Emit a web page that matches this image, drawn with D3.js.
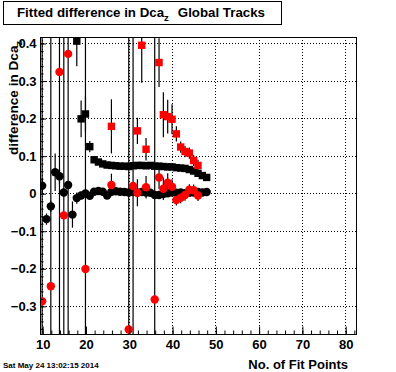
<!DOCTYPE html>
<html>
<head>
<meta charset="utf-8">
<script src="https://cdn.jsdelivr.net/npm/d3@7"></script>
<style>
  body { margin: 0; background: #fff; }
  text { font-family: "Liberation Sans", Arial, Helvetica, sans-serif; font-weight: bold; }
</style>
</head>
<body>
<div id="chart"></div>
<script>
// fitted difference in dca_z, global tracks, vs number of fit points
var xTicks = [10, 20, 30, 40, 50, 60, 70, 80];
var yTicks = [-0.3, -0.2, -0.1, 0, 0.1, 0.2, 0.3, 0.4];

var blackSqX = [18, 19, 20, 21, 22, 23, 24, 25, 26, 27, 28, 29, 30, 31, 32, 33,
  34, 35, 36, 37, 38, 39, 40, 41, 42, 43, 44, 45, 46, 47, 48];
var blackSqY = [0.405, 0.198, 0.211, 0.124, 0.089, 0.083, 0.078, 0.075, 0.074, 0.073,
  0.072, 0.072, 0.071, 0.073, 0.074, 0.074, 0.073, 0.074, 0.072, 0.072, 0.071, 0.070,
  0.070, 0.068, 0.067, 0.066, 0.063, 0.059, 0.053, 0.047, 0.042];
var blackSqErr = [0.067, 0.049, 0.047, 0.015, 0.006, 0.005, 0.005, 0.005, 0.005, 0.005,
  0.005, 0.005, 0.005, 0.005, 0.005, 0.005, 0.005, 0.005, 0.005, 0.005, 0.005, 0.005,
  0.005, 0.005, 0.005, 0.005, 0.005, 0.005, 0.005, 0.005, 0.005];

var blackCircX = [10, 11, 12, 13, 14, 15, 16, 17, 18, 19, 20, 21, 22, 23, 24, 25, 26,
  27, 28, 29, 30, 31, 32, 33, 34, 35, 36, 37, 38, 39, 40, 41, 42, 43, 44, 45, 46, 47, 48];
var blackCircY = [0.020, -0.069, -0.035, 0.056, 0.045, 0.002, 0.022, -0.057, -0.013,
  -0.006, -0.001, -0.007, 0.004, 0.006, 0.004, -0.006, 0.004, 0.005, 0.004, 0.003,
  0.002, 0.003, 0.002, 0.003, 0.002, 0.001, -0.005, -0.005, -0.002, 0.000, 0.002,
  0.001, 0.002, 0.000, 0.001, 0.002, 0.003, 0.002, 0.003];
var blackCircErr = [0.02, 0.015, 0.015, 0.05, 0.02, 0.01, 0.01, 0.035, 0.015, 0.01,
  0.008, 0.006, 0.004, 0.004, 0.004, 0.004, 0.004, 0.004, 0.004, 0.004, 0.004, 0.004,
  0.004, 0.004, 0.004, 0.004, 0.004, 0.004, 0.004, 0.004, 0.004, 0.004, 0.004, 0.004,
  0.004, 0.004, 0.004, 0.004, 0.004];

var redSqX = [26, 32, 33, 34, 37, 38, 39, 40, 41, 42, 43, 44, 45, 46];
var redSqY = [0.178, 0.166, 0.394, 0.117, 0.348, 0.209, 0.204, 0.197, 0.158, 0.123,
  0.111, 0.107, 0.087, 0.074];
var redSqErr = [0.072, 0.035, 0.1, 0.03, 0.065, 0.06, 0.045, 0.04, 0.02, 0.015,
  0.015, 0.015, 0.015, 0.015];

var redCircX = [10, 12, 14, 15, 16, 20, 26, 30, 31, 32, 34, 36, 37, 38, 39, 40, 41,
  42, 43, 44, 45, 46];
var redCircY = [-0.288, -0.248, 0.323, -0.059, 0.371, -0.202, 0.022, -0.363, 0.019,
  0.001, 0.016, -0.283, 0.042, 0.012, 0.028, 0.017, -0.018, -0.012, -0.005, 0.009,
  0.008, -0.006];
var redCircErr = [1, 1, 1, 1, 1, 1, 0.03, 1, 1, 0.036, 0.03, 1, 0.03, 0.03, 0.025,
  0.02, 0.015, 0.015, 0.015, 0.015, 0.015, 0.015];

var width = 396, height = 372;
var frame = { left: 40, right: 356, top: 37, bottom: 334 };

var svg = d3.select('#chart')
    .append('svg')
    .attr('width', width)
    .attr('height', height);

var x = d3.scaleLinear().domain([9.5, 82.5]).range([frame.left, frame.right]);
var y = d3.scaleLinear().domain([-0.375, 0.416]).range([frame.bottom, frame.top]);

function zip(xs, ys, es) {
    return xs.map(function (v, i) { return { x: v, y: ys[i], e: es[i] }; });
}

svg.append('clipPath').attr('id', 'clip')
    .append('rect')
    .attr('x', frame.left).attr('y', frame.top)
    .attr('width', frame.right - frame.left).attr('height', frame.bottom - frame.top);

// grid
var grid = svg.append('g').attr('stroke', '#000').attr('stroke-width', 1)
    .attr('stroke-dasharray', '1,2');
grid.selectAll('.gx').data(xTicks).enter().append('line')
    .attr('x1', function (d) { return Math.round(x(d)) + 0.5; })
    .attr('x2', function (d) { return Math.round(x(d)) + 0.5; })
    .attr('y1', frame.top).attr('y2', frame.bottom);
grid.selectAll('.gy').data(yTicks).enter().append('line')
    .attr('y1', function (d) { return Math.round(y(d)) + 0.5; })
    .attr('y2', function (d) { return Math.round(y(d)) + 0.5; })
    .attr('x1', frame.left).attr('x2', frame.right);

var plot = svg.append('g').attr('clip-path', 'url(#clip)');

function drawSeries(data, color, shape) {
    var g = plot.append('g');
    g.selectAll('line').data(data).enter().append('line')
        .attr('x1', function (d) { return x(d.x); })
        .attr('x2', function (d) { return x(d.x); })
        .attr('y1', function (d) { return y(d.y + d.e); })
        .attr('y2', function (d) { return y(d.y - d.e); })
        .attr('stroke', '#000')
        .attr('stroke-width', 1.2);
    if (shape === 'square') {
        g.selectAll('rect').data(data).enter().append('rect')
            .attr('x', function (d) { return x(d.x) - 3.7; })
            .attr('y', function (d) { return y(d.y) - 3.7; })
            .attr('width', 7.4).attr('height', 7.4)
            .attr('fill', color);
    } else {
        g.selectAll('circle').data(data).enter().append('circle')
            .attr('cx', function (d) { return x(d.x); })
            .attr('cy', function (d) { return y(d.y); })
            .attr('r', 4.2)
            .attr('fill', color);
    }
}

drawSeries(zip(blackSqX, blackSqY, blackSqErr), '#000', 'square');
drawSeries(zip(blackCircX, blackCircY, blackCircErr), '#000', 'circle');
drawSeries(zip(redSqX, redSqY, redSqErr), '#ff0000', 'square');
drawSeries(zip(redCircX, redCircY, redCircErr), '#ff0000', 'circle');

// frame
svg.append('rect')
    .attr('x', frame.left + 0.5).attr('y', frame.top + 0.5)
    .attr('width', frame.right - frame.left).attr('height', frame.bottom - frame.top)
    .attr('fill', 'none').attr('stroke', '#000').attr('stroke-width', 1);

// axes
svg.append('g').attr('transform', 'translate(0.5,' + (frame.bottom + 0.5) + ')')
    .call(d3.axisBottom(x).tickValues(xTicks).tickSize(-8).tickPadding(5)
        .tickFormat(d3.format('d')));
svg.append('g').attr('transform', 'translate(0.5,' + (frame.bottom + 0.5) + ')')
    .call(d3.axisBottom(x).tickValues(d3.range(10, 83, 2)).tickSize(-4).tickFormat(''));

svg.append('g').attr('transform', 'translate(' + (frame.left + 0.5) + ',0.5)')
    .call(d3.axisLeft(y).tickValues(yTicks).tickSize(-5.5).tickPadding(4)
        .tickFormat(function (d) { return d === 0 ? '0' : d3.format('.1f')(d); }));
svg.append('g').attr('transform', 'translate(' + (frame.left + 0.5) + ',0.5)')
    .call(d3.axisLeft(y).tickValues(d3.range(-0.36, 0.42, 0.02)).tickSize(-3).tickFormat(''));

svg.selectAll('.domain').remove();
svg.selectAll('.tick line').attr('stroke', '#000');
svg.selectAll('.tick text')
    .attr('font-size', 13)
    .attr('font-family', '"Liberation Sans", Arial, sans-serif')
    .attr('font-weight', 'bold')
    .attr('fill', '#000');

// axis titles
svg.append('text')
    .attr('x', 348).attr('y', 369)
    .attr('text-anchor', 'end')
    .attr('font-size', 13)
    .text('No. of Fit Points');

var yt = svg.append('text')
    .attr('transform', 'translate(18,41) rotate(-90)')
    .attr('text-anchor', 'end')
    .attr('font-size', 13.6);
yt.append('tspan').text('difference in Dca');
yt.append('tspan').attr('font-size', 9).attr('dy', 4).text('z');

// title box
svg.append('rect')
    .attr('x', 3.5).attr('y', 1.5).attr('width', 278).attr('height', 23)
    .attr('fill', '#fff').attr('stroke', '#000').attr('stroke-width', 1);
var title = svg.append('text')
    .attr('x', 17).attr('y', 17)
    .attr('font-size', 13.3);
title.append('tspan').text('Fitted difference in Dca');
title.append('tspan').attr('font-size', 9.5).attr('dy', 4).text('z');
title.append('tspan').attr('dy', -4).attr('dx', 9).text('Global Tracks');

// timestamp
svg.append('text')
    .attr('x', 3).attr('y', 368)
    .attr('font-size', 8)
    .text('Sat May 24 13:02:15 2014');
</script>
</body>
</html>
